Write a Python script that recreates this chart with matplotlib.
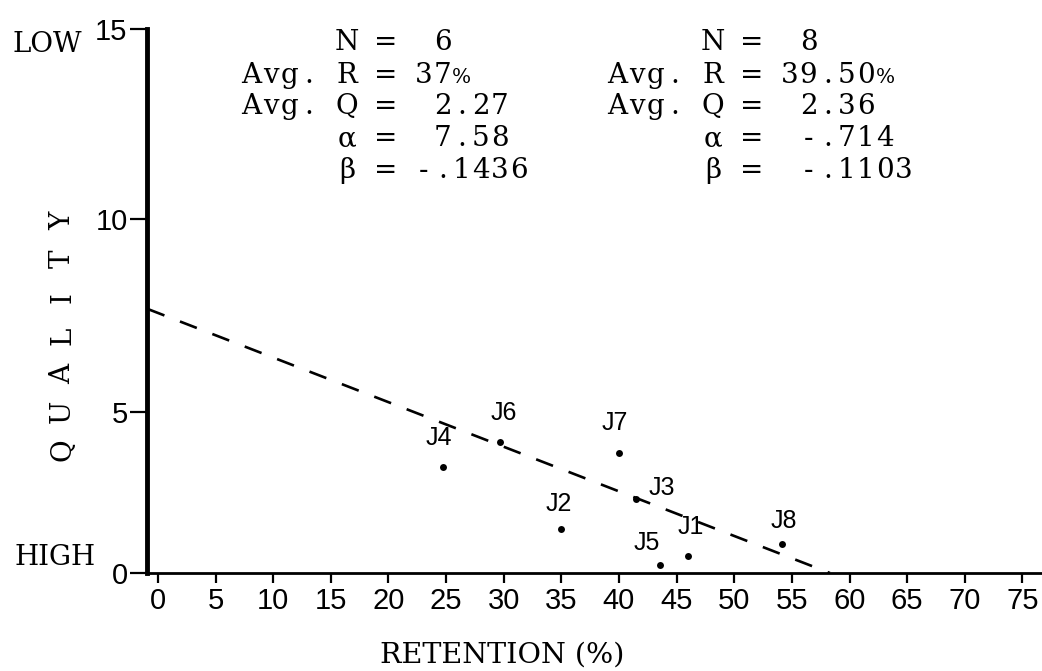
import numpy as np
import matplotlib
matplotlib.use("Agg")
import matplotlib.pyplot as plt

# Journal data
labels = ["J1", "J2", "J3", "J4", "J5", "J6", "J7", "J8"]
retention = [46.0, 35.0, 41.5, 24.7, 43.6, 29.7, 40.0, 54.1]
quality = [0.53, 1.37, 2.30, 3.29, 0.25, 4.07, 3.73, 0.90]
# label offsets from the dot (pixels)
label_dx = [3, -3, 26, -4, -14, 3, -4, 2]
label_dy = [29, 25, 11, 29, 22, 29, 30, 23]

# regression line as drawn (start at the y axis, end on the x axis)
fit_x = [-0.9, 58.3]
fit_y = [7.67, 0.0]

x_ticks = list(range(0, 80, 5))
y_ticks = [0, 5, 10, 15]
# the hand-ruled y axis is not evenly spaced: pixel height of each tick
y_tick_px = [0, 161, 354, 544]

left_stats = ["     N =  6",
              "Avg. R = 37%",
              "Avg. Q =  2.27",
              "     \u03b1 =  7.58",
              "     \u03b2 = -.1436"]
right_stats = ["     N =  8",
               "Avg. R = 39.50%",
               "Avg. Q =  2.36",
               "     \u03b1 =  -.714",
               "     \u03b2 =  -.1103"]
stat_baselines = [50, 83, 114, 146, 178]

serif = ["DejaVu Serif"]
sans = ["Liberation Sans", "DejaVu Sans"]
plt.rcParams["lines.scale_dashes"] = False

W, H = 1042, 671
CELL = 19.1  # typewriter pitch in pixels
# glyphs too wide for one typewriter cell get shrunk a little
squeeze = {"%": 0.72, "W": 0.8, "M": 0.85}
fig = plt.figure(figsize=(W / 100, H / 100), dpi=100)
ax = fig.add_axes([147 / W, 1 - 573 / H, (W - 147) / W, 544 / H])


def fwd(v):
    return np.interp(v, y_ticks, y_tick_px)


def inv(p):
    return np.interp(p, y_tick_px, y_ticks)


def typed(x0, base, s, size=20, cell=CELL):
    # one glyph per fixed-width cell, like the typewriter did
    for i, ch in enumerate(s):
        if ch != " ":
            fig.text((x0 + cell * (i + 0.5)) / W, 1 - base / H, ch, ha="center",
                     va="baseline", fontsize=size * squeeze.get(ch, 1.0),
                     family=serif)


ax.set_yscale("function", functions=(fwd, inv))
ax.set_xlim(-0.95, 76.7)
ax.set_ylim(0, 15)

ax.plot(fit_x, fit_y, color="black", lw=1.9, ls=(0, (13, 12)))
ax.plot(retention, quality, "o", color="black", ms=5, mew=0)

for lab, x, y, dx, dy in zip(labels, retention, quality, label_dx, label_dy):
    ax.annotate(lab, (x, y), xytext=(dx, dy), textcoords="offset pixels",
                ha="center", va="center", fontsize=18, family=sans)

for side in ["top", "right"]:
    ax.spines[side].set_visible(False)
ax.spines["left"].set_linewidth(3.5)
ax.spines["bottom"].set_linewidth(2)

ax.set_xticks(x_ticks)
ax.set_yticks(y_ticks)
ax.tick_params(axis="x", direction="out", length=7, width=1.6, pad=3)
ax.tick_params(axis="y", direction="out", length=12, width=1.6, pad=2)
for t in ax.get_xticklabels() + ax.get_yticklabels():
    t.set_family(sans)
    t.set_fontsize(21)

# typed axis titles
for i, ch in enumerate("Q U A L I T Y"):
    if ch != " ":
        fig.text(70 / W, 1 - (450 - CELL * i) / H, ch, rotation=90,
                 rotation_mode="anchor", ha="center", va="baseline",
                 fontsize=20, family=serif)
fig.text(380 / W, 1 - 663 / H, "RETENTION (%)", ha="left", va="baseline",
         fontsize=20.5, family=serif)
fig.text(12 / W, 1 - 52 / H, "LOW", ha="left", va="baseline", fontsize=20, family=serif)
fig.text(15 / W, 1 - 565 / H, "HIGH", ha="left", va="baseline", fontsize=20, family=serif)

for row, b in zip(left_stats, stat_baselines):
    typed(242, b, row)
for row, b in zip(right_stats, stat_baselines):
    typed(608, b, row)

fig.savefig("out.png", dpi=100)
